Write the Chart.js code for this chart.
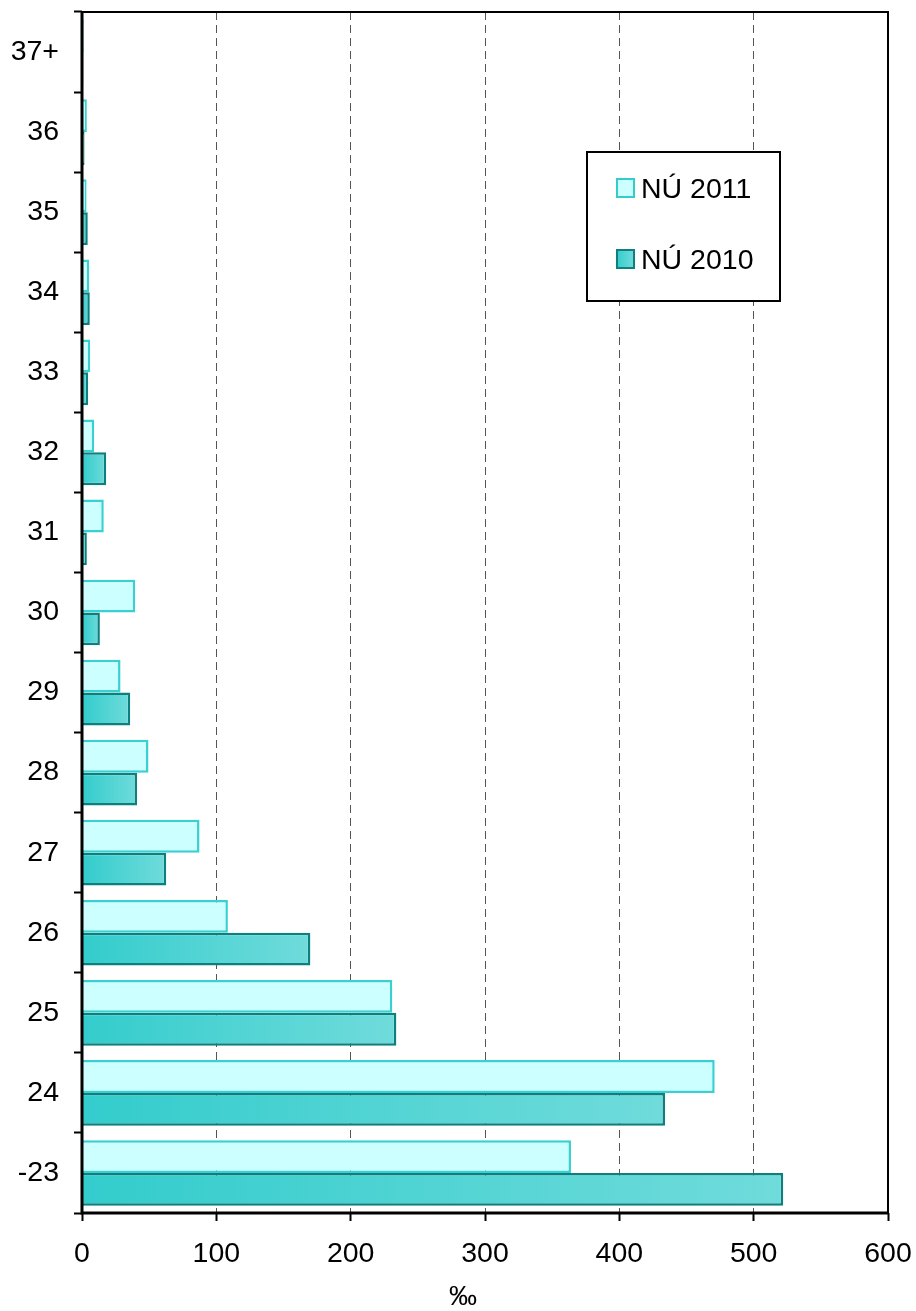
<!DOCTYPE html>
<html>
<head>
<meta charset="utf-8">
<script src="https://cdn.jsdelivr.net/npm/chart.js@4/dist/chart.umd.min.js"></script>
<style>
  html, body { margin: 0; padding: 0; background: #fff; }
  #wrap { width: 916px; height: 1311px; }
</style>
</head>
<body>
<div id="wrap"><canvas id="chart" width="916" height="1311"></canvas></div>
<script>
const ageGroups = ['37+', '36', '35', '34', '33', '32', '31', '30', '29', '28', '27', '26', '25', '24', '-23'];
const nu2011 = [1.3, 3.6, 3.4, 5.3, 6.1, 9.1, 16.2, 39.6, 28.7, 49.5, 87.5, 108.6, 231, 471, 364];
const nu2010 = [1.0, 1.9, 4.3, 5.8, 4.6, 18, 3.6, 13.3, 35.9, 41, 62.7, 170, 234, 434, 522];
const xTicks = [0, 100, 200, 300, 400, 500, 600];
const xTitle = '‰';

const FONT = '"Liberation Sans", Arial, sans-serif';

// teal gradient for NÚ 2010, runs along each bar
const tealGradient = (ctx) => {
    const chart = ctx.chart;
    if (!chart.chartArea || ctx.type !== 'data') return '#33CCCC';
    const x = chart.scales.x;
    const x0 = x.getPixelForValue(0);
    const x1 = Math.max(x.getPixelForValue(ctx.raw), x0 + 1);
    const g = chart.ctx.createLinearGradient(x0, 0, x1, 0);
    g.addColorStop(0, '#33CCCC');
    g.addColorStop(1, '#70DBDB');
    return g;
};

const framePlugin = {
    id: 'frame',
    afterDraw(chart) {
        const { ctx, chartArea: a } = chart;
        ctx.save();
        ctx.setLineDash([]);
        ctx.strokeStyle = '#000';
        ctx.lineWidth = 2;
        ctx.strokeRect(a.left, a.top, a.right - a.left, a.bottom - a.top);
        ctx.lineWidth = 3;
        ctx.beginPath();
        ctx.moveTo(a.left, a.top - 1);
        ctx.lineTo(a.left, a.bottom);
        ctx.lineTo(a.right, a.bottom);
        ctx.stroke();

        // axis title
        ctx.fillStyle = '#000';
        ctx.font = '28px ' + FONT;
        ctx.textAlign = 'center';
        ctx.textBaseline = 'middle';
        ctx.fillText(xTitle, 463, 1297);

        // legend box
        const bx = 587, by = 152, bw = 193, bh = 149;
        ctx.fillStyle = '#fff';
        ctx.fillRect(bx, by, bw, bh);
        ctx.lineWidth = 2;
        ctx.strokeRect(bx, by, bw, bh);
        const items = [
            { text: 'NÚ 2011', y: 179, fill: '#CCFFFF', stroke: '#33CCCC' },
            { text: 'NÚ 2010', y: 250, fill: null, stroke: '#0E7F7F' },
        ];
        items.forEach(it => {
            let fill = it.fill;
            if (!fill) {
                fill = ctx.createLinearGradient(616, 0, 634, 0);
                fill.addColorStop(0, '#33CCCC');
                fill.addColorStop(1, '#70DBDB');
            }
            ctx.fillStyle = fill;
            ctx.fillRect(617, it.y, 17, 18);
            ctx.strokeStyle = it.stroke;
            ctx.lineWidth = 2;
            ctx.strokeRect(617, it.y, 17, 18);
            ctx.fillStyle = '#000';
            ctx.font = '28.5px ' + FONT;
            ctx.textAlign = 'left';
            ctx.textBaseline = 'alphabetic';
            ctx.fillText(it.text, 641, it.y + 19);
        });
        ctx.restore();
    }
};

new Chart(document.getElementById('chart'), {
    type: 'bar',
    data: {
        labels: ageGroups,
        datasets: [{
            label: 'NÚ 2011',
            data: nu2011,
            backgroundColor: '#CCFFFF',
            borderColor: '#38D0D0',
            borderWidth: 2.5,
            borderSkipped: 'start',
        }, {
            label: 'NÚ 2010',
            data: nu2010,
            backgroundColor: tealGradient,
            borderColor: '#0E7F7F',
            borderWidth: 2.5,
            borderSkipped: 'start',
        }]
    },
    options: {
        indexAxis: 'y',
        responsive: false,
        animation: false,
        categoryPercentage: 0.82,
        barPercentage: 1.0,
        layout: { padding: { top: 12, right: 28, left: 0, bottom: 0 } },
        plugins: {
            legend: { display: false },
            tooltip: { enabled: false },
        },
        scales: {
            x: {
                min: 0,
                max: 600,
                afterBuildTicks: (scale) => { scale.ticks = xTicks.map(v => ({ value: v })); },
                afterFit: (scale) => {
                    scale.height = 98;
                    scale.paddingLeft = 0;
                    scale.paddingRight = 0;
                },
                ticks: {
                    color: '#000',
                    font: { family: FONT, size: 28.5 },
                    padding: 16,
                },
                grid: {
                    color: (c) => (c.tick && (c.tick.value === 0 || c.tick.value === 600)) ? 'rgba(0,0,0,0)' : '#555',
                    lineWidth: 1,
                    tickColor: '#000',
                    tickWidth: 2,
                    tickLength: 8,
                },
                border: { display: false, dash: [8, 5] },
            },
            y: {
                afterFit: (scale) => {
                    scale.width = 82;
                    scale.paddingTop = 0;
                    scale.paddingBottom = 0;
                },
                ticks: {
                    color: '#000',
                    font: { family: FONT, size: 28.5 },
                    padding: 15,
                },
                grid: {
                    drawOnChartArea: false,
                    offset: true,
                    tickColor: '#000',
                    tickWidth: 2,
                    tickLength: 8,
                },
                border: { display: false },
            }
        }
    },
    plugins: [framePlugin]
});
</script>
</body>
</html>
